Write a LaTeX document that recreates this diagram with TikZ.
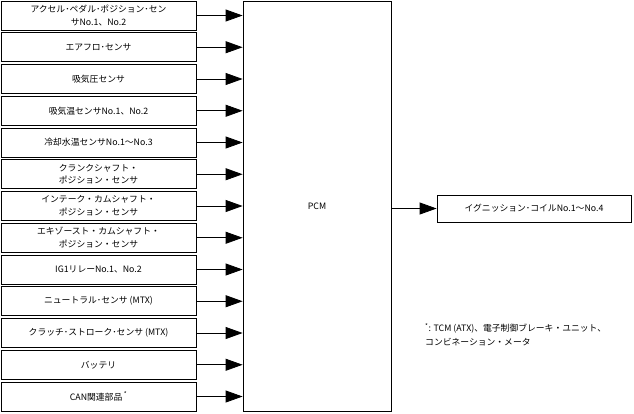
\documentclass[tikz,border=0pt]{standalone}
\usepackage{fontspec}
\setmainfont{Noto Sans CJK JP}
\usetikzlibrary{arrows.meta}

\tikzset{
    part/.style={draw, line width=0.8pt, minimum width=195pt, minimum height=29pt,
        inner sep=1pt, align=center, font=\fontsize{8.8}{12.8}\selectfont},
    sig/.style={-{Triangle[length=17pt,width=12pt]}, line width=0.8pt},
}

\begin{document}
\begin{tikzpicture}[x=1pt,y=-1pt]

        \useasboundingbox (0,0) rectangle (634,413);

        % Control unit
        \node[part, minimum width=148pt, minimum height=410pt] (pcm) at (317,206) {PCM};

        % Input parts
        \foreach \lbl [count=\i from 0] in {
                {アクセル･ペダル･ポジション･セン\\サNo.1、No.2},
                {エアフロ･センサ},
                {吸気圧センサ},
                {吸気温センサNo.1、No.2},
                {冷却水温センサNo.1～No.3},
                {クランクシャフト・\\ポジション・センサ},
                {インテーク・カムシャフト・\\ポジション・センサ},
                {エキゾースト・カムシャフト・\\ポジション・センサ},
                {IG1リレーNo.1、No.2},
                {ニュートラル･センサ (MTX)},
                {クラッチ･ストローク･センサ (MTX)},
                {バッテリ},
                {CAN関連部品\,\textsuperscript{*}}}
            {
                \node[part] (in\i) at (98.5,15.5+31.75*\i) {\lbl};
                \draw[sig] (in\i.east) -- (in\i.east -| pcm.west);
            }

        % Output
        \node[part, minimum width=194pt, minimum height=27pt] (ign) at (534,208.5) {イグニッション･コイルNo.1～No.4};
        \draw[sig] (ign.west -| pcm.east) -- (ign.west);

        % Footnote
        \node[anchor=north west, align=left, inner sep=0pt, font=\fontsize{8.8}{14}\selectfont] (note) at (425,323)
            {\textsuperscript{*}: TCM (ATX)、電子制御ブレーキ・ユニット、\\コンビネーション・メータ};

    \end{tikzpicture}
\end{document}
